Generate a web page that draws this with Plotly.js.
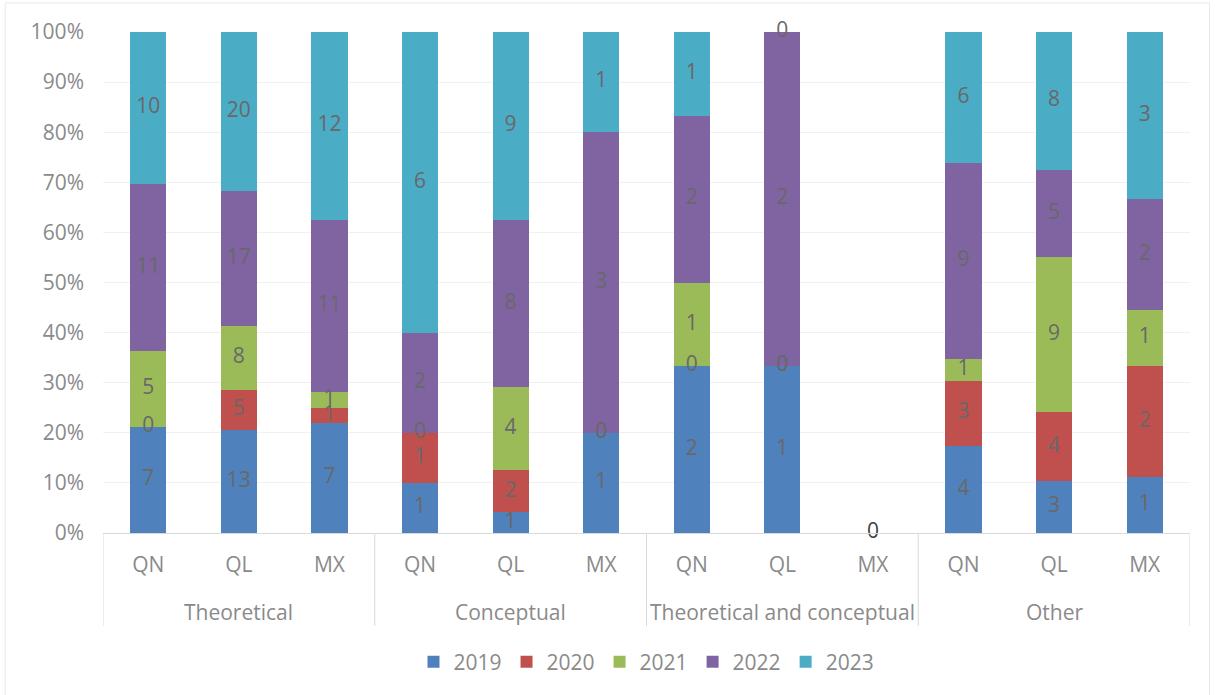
<!DOCTYPE html>
<html>
<head>
<meta charset="utf-8">
<script src="https://cdn.plot.ly/plotly-3.0.1.min.js"></script>
<style>html,body{margin:0;padding:0;background:#fff;}#chart{width:1215px;height:695px;}</style>
</head>
<body>
<div id="chart"></div>
<script>
// Categories
const groups = ["Theoretical","Theoretical","Theoretical","Conceptual","Conceptual","Conceptual","Theoretical and conceptual","Theoretical and conceptual","Theoretical and conceptual","Other","Other","Other"];
const methods = ["QN","QL","MX","QN","QL","MX","QN","QL","MX","QN","QL","MX"];
const years = ["2019","2020","2021","2022","2023"];
// Counts per year (one value per bar, in the order above)
const v2019 = [7, 13, 7, 1, 1, 1, 2, 1, 0, 4, 3, 1];
const v2020 = [0, 5, 1, 1, 2, 0, 0, 0, 0, 3, 4, 2];
const v2021 = [5, 8, 1, 0, 4, 0, 1, 0, 0, 1, 9, 1];
const v2022 = [11, 17, 11, 2, 8, 3, 2, 2, 0, 9, 5, 2];
const v2023 = [10, 20, 12, 6, 9, 1, 1, 0, 0, 6, 8, 3];
const colors = ["#4F81BD","#C0504D","#9BBB59","#8064A2","#4BACC6"];

const series = [v2019, v2020, v2021, v2022, v2023];
const idx = methods.map((_, i) => i);
const totals = idx.map(i => series.reduce((s, arr) => s + arr[i], 0));
const font = "'Open Sans', 'Noto Sans', sans-serif";
const axisGray = "#8a8a8a";
const lineGray = "#d9d9d9";

const traces = [];
const cum = idx.map(() => 0);
series.forEach((vals, k) => {
  const pct = vals.map((v, i) => totals[i] ? v / totals[i] * 100 : 0);
  traces.push({
    type: "bar", name: years[k], x: idx, y: pct,
    marker: {color: colors[k]}, hoverinfo: "skip"
  });
  const mid = pct.map((p, i) => cum[i] + p / 2);
  pct.forEach((p, i) => cum[i] += p);
  traces.push({
    type: "scatter", mode: "text", x: idx, y: mid, showlegend: false,
    text: vals.map((v, i) => (totals[i] === 0 && k > 0) ? "" : String(v)),
    cliponaxis: false, hoverinfo: "skip",
    textfont: {family: font, size: 21, color: totals.map(t => t ? "#686868" : "#404040")}
  });
});

// group labels and dividers derived from the category arrays
const groupNames = [...new Set(groups)];
const pH = 695 - 32 - 162;
const annotations = groupNames.map(g => {
  const ii = idx.filter(i => groups[i] === g);
  return {xref: "x", yref: "paper", x: (ii[0] + ii[ii.length - 1]) / 2, y: -(612 - 533) / pH,
          yanchor: "middle", xanchor: "center", text: g, showarrow: false,
          font: {family: font, size: 21, color: axisGray}};
});
const bounds = [-0.5];
groupNames.forEach(g => { const ii = idx.filter(i => groups[i] === g); bounds.push(ii[ii.length - 1] + 0.5); });
const shapes = bounds.map(b => ({type: "line", xref: "x", yref: "paper", x0: b, x1: b, y0: 0, y1: -(626 - 533) / pH,
                                 line: {color: lineGray, width: 1}}));
shapes.push({type: "rect", xref: "paper", yref: "paper", x0: -0.09, x1: 1.018, y0: -0.33, y1: 1.058,
             line: {color: "#e8e8e8", width: 1}});

const layout = {
  width: 1215, height: 695,
  margin: {l: 103, r: 25, t: 32, b: 162},
  paper_bgcolor: "#fff", plot_bgcolor: "#fff",
  barmode: "stack", bargap: 0.6,
  font: {family: font, size: 21, color: axisGray},
  xaxis: {
    range: [-0.5, 11.5], tickvals: idx, ticktext: methods, showgrid: false, zeroline: false,
    showline: true, linecolor: lineGray, linewidth: 1, ticks: "", ticklabelstandoff: 13,
    tickfont: {family: font, size: 21, color: axisGray}, fixedrange: true
  },
  yaxis: {
    range: [0, 100], dtick: 10, ticksuffix: "%", showgrid: true, gridcolor: "#f0f0f0",
    zeroline: false, ticks: "", ticklabelstandoff: 18,
    tickfont: {family: font, size: 21, color: axisGray}, fixedrange: true
  },
  legend: {orientation: "h", x: 0.5, xanchor: "center", y: -(662 - 533) / pH, yanchor: "middle",
           itemwidth: 30, font: {family: font, size: 21, color: axisGray}, traceorder: "normal"},
  annotations: annotations,
  shapes: shapes,
  showlegend: true
};

Plotly.newPlot("chart", traces, layout, {displayModeBar: false, staticPlot: true});
</script>
</body>
</html>
